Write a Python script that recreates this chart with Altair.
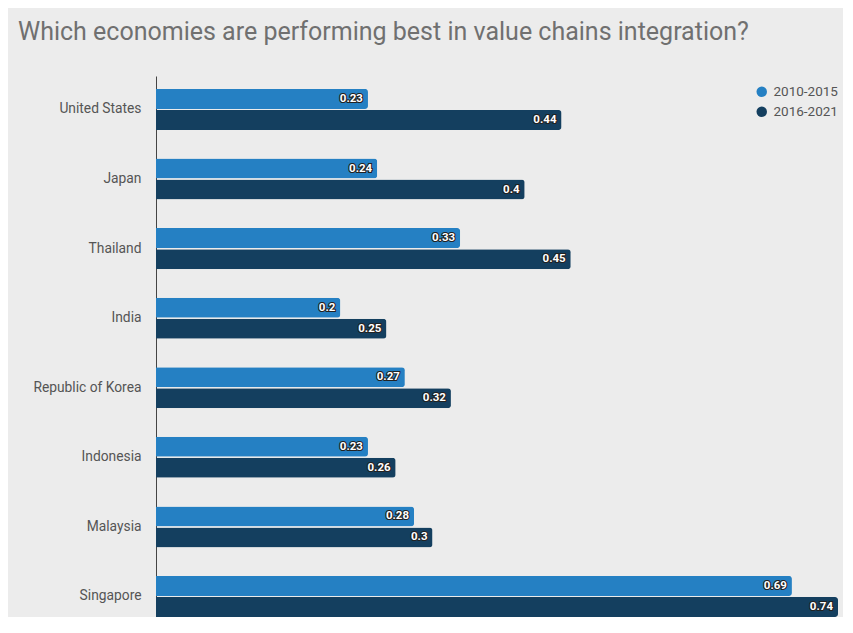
import altair as alt
import pandas as pd

countries = ["United States", "Japan", "Thailand", "India", "Republic of Korea",
             "Indonesia", "Malaysia", "Singapore"]
periods = ["2010-2015", "2016-2021"]
v_2010_2015 = [0.23, 0.24, 0.33, 0.2, 0.27, 0.23, 0.28, 0.69]
v_2016_2021 = [0.44, 0.4, 0.45, 0.25, 0.32, 0.26, 0.3, 0.74]
colors = ["#2580c3", "#143f5f"]

rows = []
for c, a, b in zip(countries, v_2010_2015, v_2016_2021):
    rows.append({"country": c, "period": periods[0], "value": a, "label": f"{a:g}"})
    rows.append({"country": c, "period": periods[1], "value": b, "label": f"{b:g}"})
df = pd.DataFrame(rows)

y_enc = alt.Y("country:N", sort=countries,
              scale=alt.Scale(paddingInner=0.41, paddingOuter=0.093, align=1),
              axis=alt.Axis(title=None, ticks=False, labelPadding=15, labelFontSize=13.8,
                            labelFont="Roboto", labelColor="#555555", domainColor="#444444",
                            domainWidth=1))
yoff = alt.YOffset("period:N", sort=periods, scale=alt.Scale(paddingInner=0.05))
x_enc = alt.X("value:Q", scale=alt.Scale(domain=[0, 0.74], nice=False), axis=None)

base = alt.Chart(df).encode(y=y_enc, yOffset=yoff, x=x_enc)

bars = base.mark_bar(cornerRadiusEnd=3).encode(
    color=alt.Color("period:N", sort=periods,
                    scale=alt.Scale(domain=periods, range=colors),
                    legend=alt.Legend(title=None, orient="none", legendX=599, legendY=9,
                                      symbolType="circle", symbolSize=110,
                                      symbolStrokeWidth=0, labelFontSize=13.5,
                                      labelFont="Roboto", labelColor="#555555",
                                      rowPadding=5, labelOffset=5))
)

outline = base.mark_text(align="right", baseline="middle", dx=-5, fontSize=11.5,
                         fontWeight="bold", font="Roboto", fill="#222222",
                         stroke="#222222", strokeWidth=2.2).encode(text="label:N")
labels = base.mark_text(align="right", baseline="middle", dx=-5, fontSize=11.5,
                        fontWeight="bold", font="Roboto", fill="white").encode(text="label:N")

chart = alt.layer(bars, outline, labels).properties(
    width=682, height=541,
    autosize=alt.AutoSizeParams(type="none"),
    padding={"left": 148, "top": 68, "right": 5, "bottom": 0},
    background="#ececec",
    title=alt.TitleParams("Which economies are performing best in value chains integration?",
                          anchor="start", frame="group", dx=-138, offset=31, fontSize=25,
                          font="Roboto", fontWeight="normal", color="#707070"),
).configure_view(stroke=None)

chart.save("out.html", embed_options={"renderer": "svg", "actions": False})
